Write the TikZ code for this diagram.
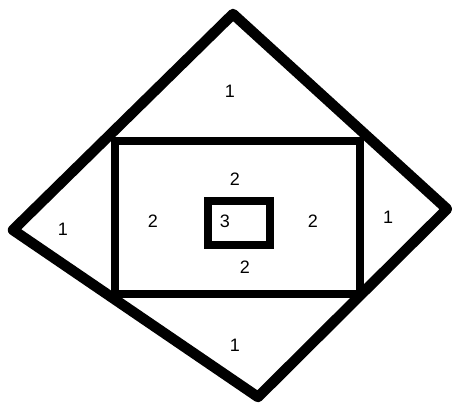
\documentclass[tikz,border=0pt]{standalone}
\usepackage{fontspec}
\setmainfont{Liberation Sans}
\begin{document}
\begin{tikzpicture}[
				x=1pt, y=-1pt,
				outer/.style={draw, line width=10.5pt, line join=round},
				inner/.style={draw, line width=8pt, line join=miter},
				level/.style={font=\fontsize{18}{18}\selectfont, inner sep=0pt},
			]
			\useasboundingbox (0,0) rectangle (452,409);

			% diamond corners
			\coordinate (top)    at (233, 14);
			\coordinate (right)  at (447, 209);
			\coordinate (bottom) at (258, 397);
			\coordinate (left)   at (13, 230);

			% middle rectangle and small box
			\coordinate (m1) at (114.5, 140.5);
			\coordinate (m2) at (359.5, 294);
			\coordinate (s1) at (207.5, 200.5);
			\coordinate (s2) at (269.5, 245);

			\draw[outer] (top) -- (right) -- (bottom) -- (left) -- cycle;
			\draw[inner] (m1) rectangle (m2);
			\draw[inner] (s1) rectangle (s2);

			% level 1
			\node[level] (t1) at (230, 91)  {1};
			\node[level] (l1) at (63, 229)  {1};
			\node[level] (r1) at (388, 217) {1};
			\node[level] (b1) at (235, 345) {1};

			% level 2
			\node[level] (t2) at (235, 179) {2};
			\node[level] (l2) at (153, 221) {2};
			\node[level] (r2) at (313, 221) {2};
			\node[level] (b2) at (245, 267) {2};

			% level 3
			\node[level] (c3) at (225, 221) {3};
		\end{tikzpicture}
\end{document}
